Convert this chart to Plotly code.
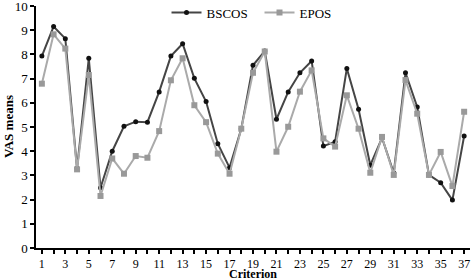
import plotly.graph_objects as go

criterion = list(range(1, 38))
bscos = [7.93, 9.15, 8.65, 3.28, 7.84, 2.49, 4.0, 5.03, 5.22, 5.2,
         6.45, 7.93, 8.44, 7.01, 6.05, 4.31, 3.32, 4.93, 7.55, 8.14,
         5.32, 6.45, 7.24, 7.73, 4.21, 4.39, 7.42, 5.73, 3.42, 4.55,
         3.1, 7.24, 5.83, 3.02, 2.7, 1.98, 4.63]
epos = [6.79, 8.83, 8.24, 3.25, 7.15, 2.15, 3.7, 3.07, 3.8, 3.73,
        4.83, 6.93, 7.84, 5.9, 5.2, 3.9, 3.07, 4.93, 7.24, 8.12,
        3.98, 5.01, 6.46, 7.34, 4.53, 4.19, 6.31, 4.93, 3.11, 4.59,
        3.02, 6.94, 5.55, 3.02, 3.97, 2.56, 5.63]
x_ticks = list(range(1, 38, 2))
y_ticks = list(range(0, 11))

font = "Liberation Serif"

fig = go.Figure()
fig.add_trace(go.Scatter(
    x=criterion, y=bscos, name="BSCOS", mode="lines+markers",
    line=dict(color="#454545", width=2),
    marker=dict(symbol="circle", size=5, color="#111111"),
))
fig.add_trace(go.Scatter(
    x=criterion, y=epos, name="EPOS", mode="lines+markers",
    line=dict(color="#aaaaaa", width=2),
    marker=dict(symbol="square", size=6, color="#999999"),
))

fig.update_layout(
    width=471, height=280,
    margin=dict(l=36, r=1, t=6, b=32, autoexpand=False),
    paper_bgcolor="white", plot_bgcolor="white",
    font=dict(family=font, size=13, color="black"),
    showlegend=True,
    legend=dict(orientation="h", x=0.515, xanchor="center", y=1.035, yanchor="top",
                font=dict(family=font, size=13), bgcolor="rgba(0,0,0,0)",
                itemwidth=30, tracegroupgap=0, entrywidth=48),
    xaxis=dict(
        range=[0.5, 37.5], tickmode="array", tickvals=x_ticks,
        ticks="outside", ticklen=4, tickwidth=1.5, tickcolor="black",
        showline=True, linecolor="black", linewidth=1.5,
        showgrid=False, zeroline=False, automargin=False,
        ticklabeloverflow="allow",
        minor=dict(dtick=1, tick0=0, ticks="outside", ticklen=4, tickwidth=1.5, tickcolor="black"),
        tickfont=dict(family=font, size=12),
    ),
    yaxis=dict(
        range=[0, 10], tickmode="array", tickvals=y_ticks,
        ticks="outside", ticklen=4, tickwidth=1.5, tickcolor="black",
        showline=True, linecolor="black", linewidth=1.5,
        showgrid=False, zeroline=False, automargin=False,
        ticklabeloverflow="allow",
        tickfont=dict(family=font, size=13),
    ),
    annotations=[
        dict(text="<b>Criterion</b>", x=0.5, xref="paper", y=0, yref="paper",
             yshift=-26, yanchor="middle", showarrow=False, borderpad=0,
             font=dict(family=font, size=12)),
        dict(text="<b>VAS means</b>", x=0, xref="paper", y=0.5, yref="paper",
             xshift=-28, xanchor="center", textangle=-90, showarrow=False,
             font=dict(family=font, size=13)),
    ],
)

fig.write_html("out.html", config={"displayModeBar": False},
               post_script="document.body.style.margin='0';document.body.style.padding='0';")
